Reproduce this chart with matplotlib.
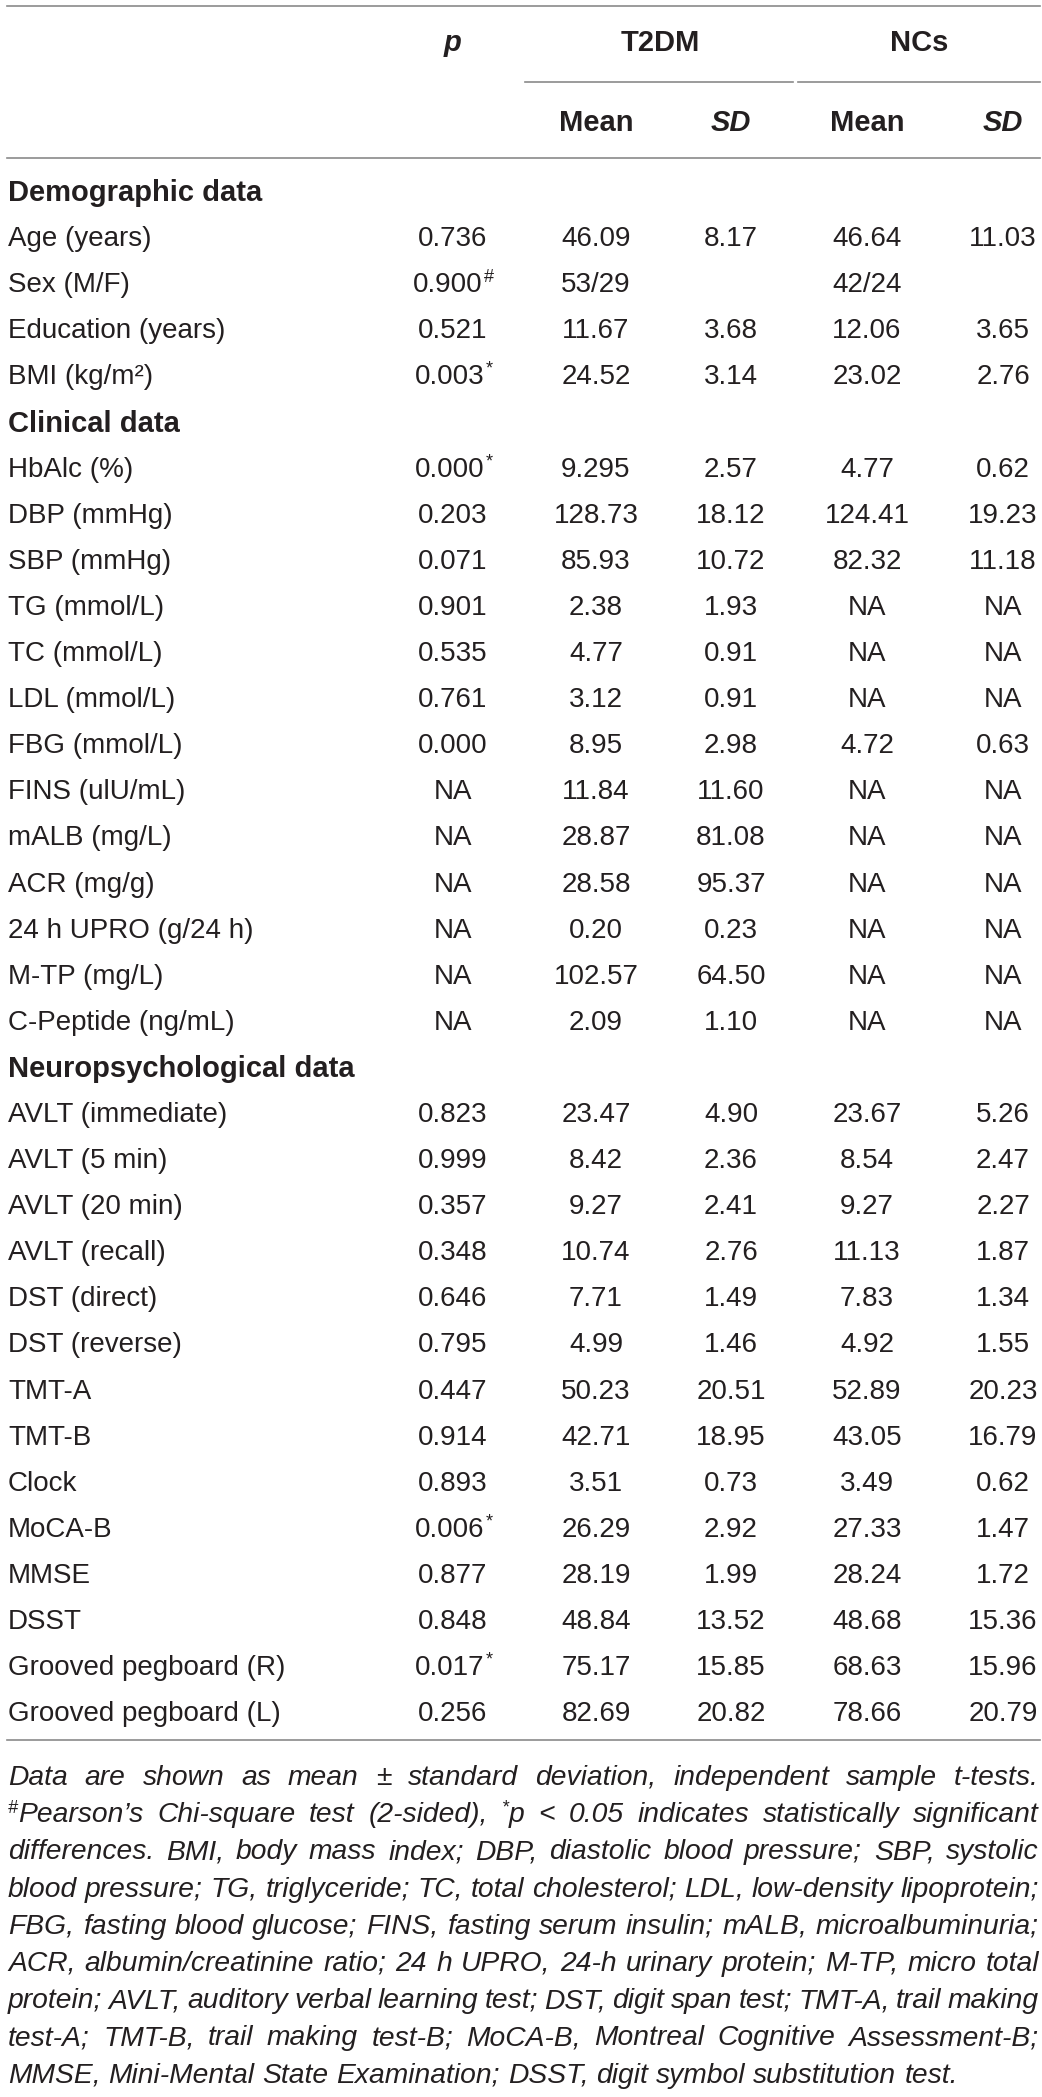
import matplotlib
matplotlib.use("Agg")
import matplotlib.pyplot as plt

# table content
section_names = ["Demographic data", "Clinical data", "Neuropsychological data"]
section_sizes = [4, 13, 14]

labels = ["Age (years)", "Sex (M/F)", "Education (years)", "BMI (kg/m²)",
          "HbAlc (%)", "DBP (mmHg)", "SBP (mmHg)", "TG (mmol/L)", "TC (mmol/L)",
          "LDL (mmol/L)", "FBG (mmol/L)", "FINS (ulU/mL)", "mALB (mg/L)",
          "ACR (mg/g)", "24 h UPRO (g/24 h)", "M-TP (mg/L)", "C-Peptide (ng/mL)",
          "AVLT (immediate)", "AVLT (5 min)", "AVLT (20 min)", "AVLT (recall)",
          "DST (direct)", "DST (reverse)", "TMT-A", "TMT-B", "Clock", "MoCA-B",
          "MMSE", "DSST", "Grooved pegboard (R)", "Grooved pegboard (L)"]
p_vals = ["0.736", "0.900", "0.521", "0.003",
          "0.000", "0.203", "0.071", "0.901", "0.535", "0.761", "0.000",
          "NA", "NA", "NA", "NA", "NA", "NA",
          "0.823", "0.999", "0.357", "0.348", "0.646", "0.795", "0.447",
          "0.914", "0.893", "0.006", "0.877", "0.848", "0.017", "0.256"]
p_marks = ["", "#", "", "*",
           "*", "", "", "", "", "", "", "", "", "", "", "", "",
           "", "", "", "", "", "", "", "", "", "*", "", "", "*", ""]
t2dm_mean = ["46.09", "53/29", "11.67", "24.52",
             "9.295", "128.73", "85.93", "2.38", "4.77", "3.12", "8.95",
             "11.84", "28.87", "28.58", "0.20", "102.57", "2.09",
             "23.47", "8.42", "9.27", "10.74", "7.71", "4.99", "50.23",
             "42.71", "3.51", "26.29", "28.19", "48.84", "75.17", "82.69"]
t2dm_sd = ["8.17", "", "3.68", "3.14",
           "2.57", "18.12", "10.72", "1.93", "0.91", "0.91", "2.98",
           "11.60", "81.08", "95.37", "0.23", "64.50", "1.10",
           "4.90", "2.36", "2.41", "2.76", "1.49", "1.46", "20.51",
           "18.95", "0.73", "2.92", "1.99", "13.52", "15.85", "20.82"]
nc_mean = ["46.64", "42/24", "12.06", "23.02",
           "4.77", "124.41", "82.32", "NA", "NA", "NA", "4.72",
           "NA", "NA", "NA", "NA", "NA", "NA",
           "23.67", "8.54", "9.27", "11.13", "7.83", "4.92", "52.89",
           "43.05", "3.49", "27.33", "28.24", "48.68", "68.63", "78.66"]
nc_sd = ["11.03", "", "3.65", "2.76",
         "0.62", "19.23", "11.18", "NA", "NA", "NA", "0.63",
         "NA", "NA", "NA", "NA", "NA", "NA",
         "5.26", "2.47", "2.27", "1.87", "1.34", "1.55", "20.23",
         "16.79", "0.62", "1.47", "1.72", "15.36", "15.96", "20.79"]

# footnote, one entry per printed line; "^" marks a superscript token
footnote_lines = [
    "Data are shown as mean ± standard deviation, independent sample t-tests.",
    "^#Pearson’s Chi-square test (2-sided), ^*p < 0.05 indicates statistically significant",
    "differences. BMI, body mass index; DBP, diastolic blood pressure; SBP, systolic",
    "blood pressure; TG, triglyceride; TC, total cholesterol; LDL, low-density lipoprotein;",
    "FBG, fasting blood glucose; FINS, fasting serum insulin; mALB, microalbuminuria;",
    "ACR, albumin/creatinine ratio; 24 h UPRO, 24-h urinary protein; M-TP, micro total",
    "protein; AVLT, auditory verbal learning test; DST, digit span test; TMT-A, trail making",
    "test-A; TMT-B, trail making test-B; MoCA-B, Montreal Cognitive Assessment-B;",
    "MMSE, Mini-Mental State Examination; DSST, digit symbol substitution test.",
]

W, H = 1042, 2097
FONT = "Liberation Sans"
TXT = "#231f20"
RULE = "#8a8a8a"
FS = 20
FS_B = 21
FS_NOTE = 20.3

fig = plt.figure(figsize=(W / 100, H / 100), dpi=100)
ax = fig.add_axes([0, 0, 1, 1])
ax.set_xlim(0, W)
ax.set_ylim(H, 0)
ax.axis("off")
renderer = fig.canvas.get_renderer()


def width_of(t):
    bb = t.get_window_extent(renderer=renderer)
    return bb.width


def txt(x, y, s, **kw):
    kw.setdefault("fontsize", FS)
    kw.setdefault("color", TXT)
    kw.setdefault("family", FONT)
    kw.setdefault("va", "center")
    return ax.text(x, y, s, **kw)


def centered_with_sup(x, y, main, sup):
    t = txt(x, y, main, ha="left")
    w_main = width_of(t)
    if not sup:
        t.set_x(x - w_main / 2)
        return
    s = txt(x, y - 8, sup, ha="left", fontsize=13)
    w_sup = width_of(s)
    left = x - (w_main + w_sup) / 2
    t.set_x(left)
    s.set_x(left + w_main + 1)


# column centres
x_label = 8
x_p, x_tm, x_tsd, x_nm, x_nsd = 453, 596, 731, 867, 1003

# rules
ax.plot([7, 1040], [6, 6], color=RULE, lw=1.2)
ax.plot([525, 793], [82, 82], color=RULE, lw=1.2)
ax.plot([798, 1040], [82, 82], color=RULE, lw=1.2)
ax.plot([7, 1040], [158, 158], color=RULE, lw=1.2)
ax.plot([7, 1040], [1740, 1740], color=RULE, lw=1.2)

# header
txt(x_p, 43, "p", ha="center", fontsize=FS_B, fontweight="bold", style="italic")
txt(660, 43, "T2DM", ha="center", fontsize=FS_B, fontweight="bold")
txt(919, 43, "NCs", ha="center", fontsize=FS_B, fontweight="bold")
txt(x_tm, 123, "Mean", ha="center", fontsize=FS_B, fontweight="bold")
txt(x_tsd, 123, "SD", ha="center", fontsize=FS_B, fontweight="bold", style="italic")
txt(x_nm, 123, "Mean", ha="center", fontsize=FS_B, fontweight="bold")
txt(x_nsd, 123, "SD", ha="center", fontsize=FS_B, fontweight="bold", style="italic")

# body rows
y0, step = 193, 46.1
row = 0
i = 0
for name, n in zip(section_names, section_sizes):
    txt(x_label, y0 + row * step, name, ha="left", fontsize=FS_B, fontweight="bold")
    row += 1
    for _ in range(n):
        y = y0 + row * step
        txt(x_label, y, labels[i], ha="left")
        centered_with_sup(x_p, y, p_vals[i], p_marks[i])
        txt(x_tm, y, t2dm_mean[i], ha="center")
        txt(x_tsd, y, t2dm_sd[i], ha="center")
        txt(x_nm, y, nc_mean[i], ha="center")
        txt(x_nsd, y, nc_sd[i], ha="center")
        row += 1
        i += 1

# justified italic footnote
left, right = 8, 1039
fy0, fstep = 1778, 37.2
for k, line in enumerate(footnote_lines):
    y = fy0 + k * fstep
    words = line.split(" ")
    items = []
    for w in words:
        parts = []
        if w.startswith("^"):
            parts.append(txt(0, y - 7, w[1], ha="left", fontsize=13, style="italic"))
            w = w[2:]
        parts.append(txt(0, y, w, ha="left", fontsize=FS_NOTE, style="italic"))
        items.append(parts)
    widths = [sum(width_of(p) for p in parts) for parts in items]
    last = k == len(footnote_lines) - 1
    if last:
        gap = width_of(txt(0, y, "a a", fontsize=FS_NOTE, style="italic", alpha=0)) \
            - 2 * width_of(txt(0, y, "a", fontsize=FS_NOTE, style="italic", alpha=0))
    else:
        gap = (right - left - sum(widths)) / (len(items) - 1)
    x = left
    for parts, w in zip(items, widths):
        xx = x
        for p in parts:
            p.set_x(xx)
            xx += width_of(p)
        x += w + gap

fig.savefig("out.png", dpi=100)
